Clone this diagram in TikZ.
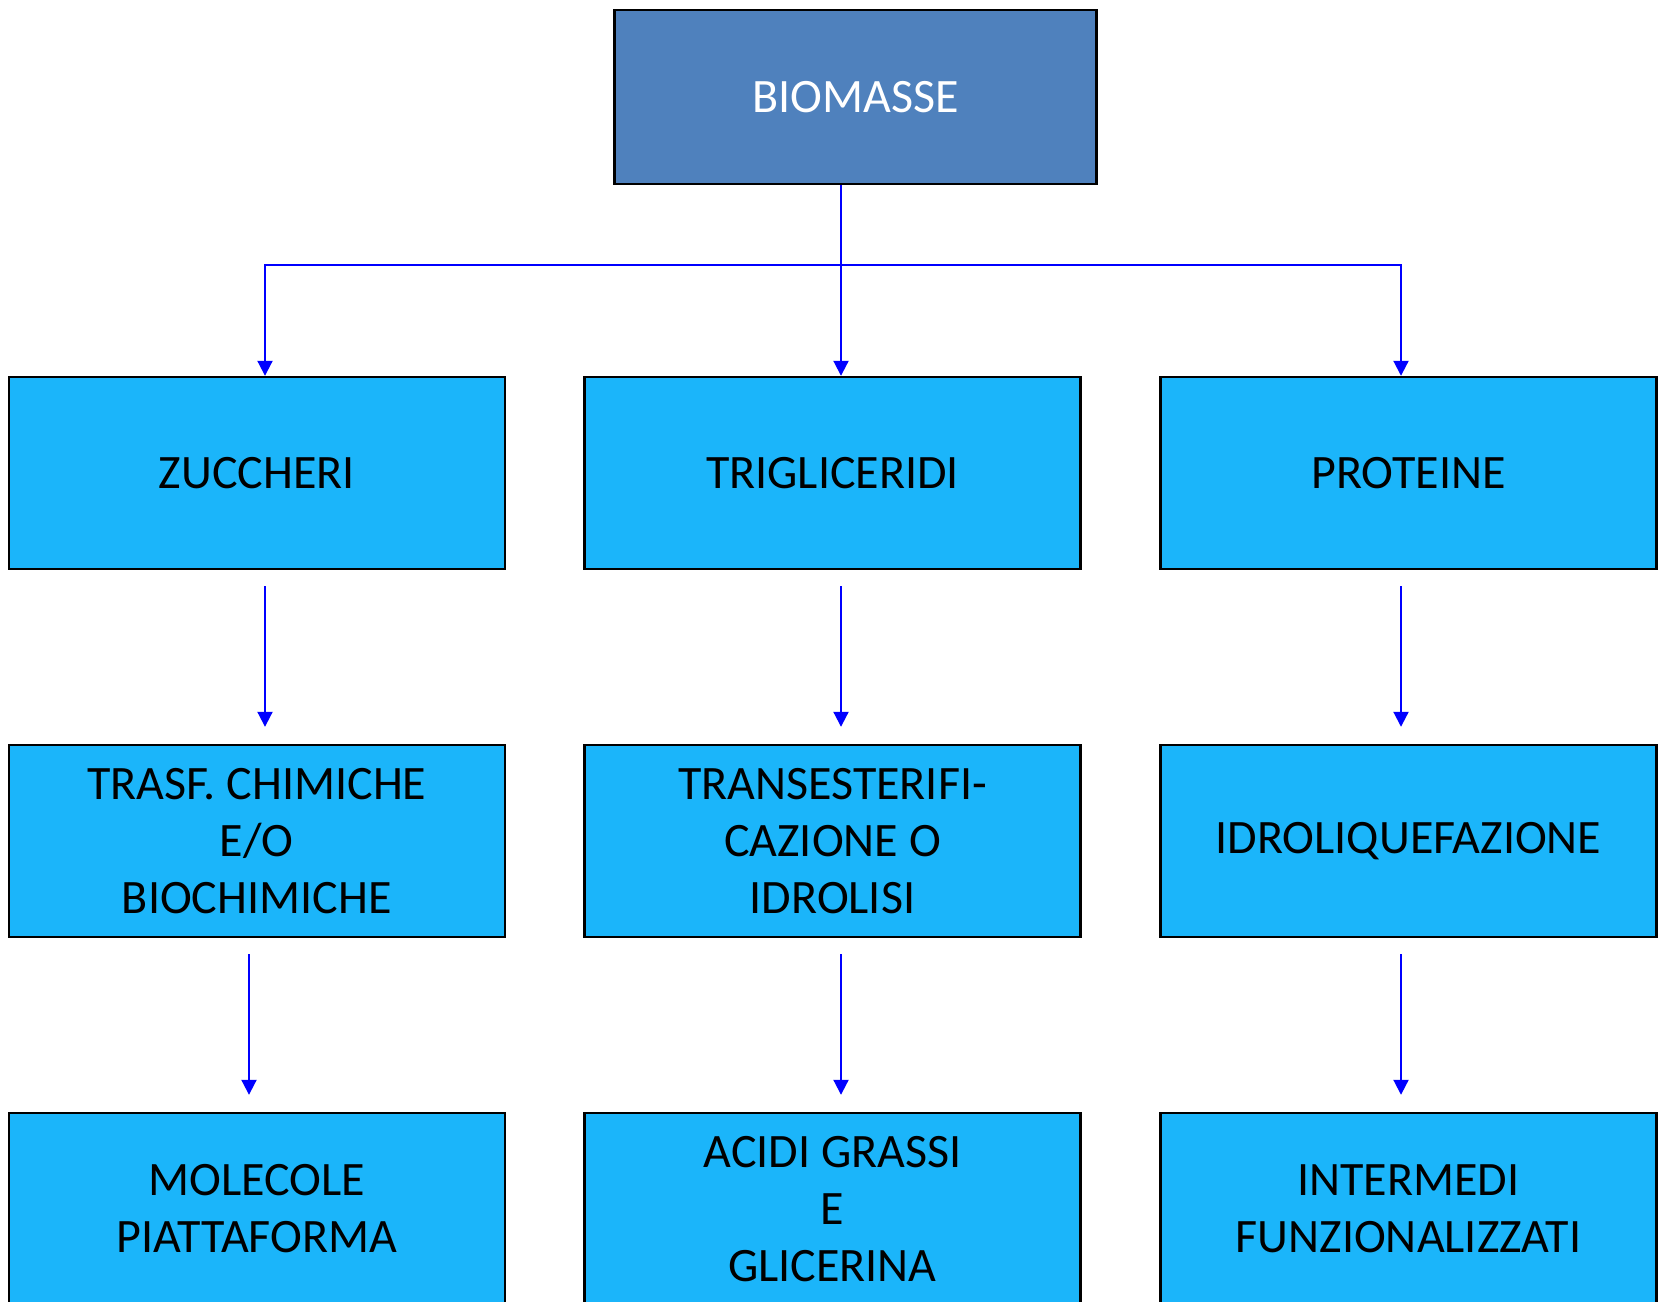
\documentclass[tikz,border=0pt]{standalone}
\usepackage{fontspec}
\setmainfont{Carlito}
\usetikzlibrary{arrows.meta}
\definecolor{topfill}{RGB}{79,129,189}
\definecolor{boxfill}{RGB}{27,181,250}
\definecolor{flowblue}{RGB}{0,0,255}
\tikzset{
  topbox/.style={draw=black, line width=2.4pt, fill=topfill, text=white,
    minimum width=482pt, minimum height=174pt, inner sep=0pt,
    font=\fontsize{48}{57}\selectfont},
  stagebox/.style={draw=black, line width=2.4pt, fill=boxfill, text=black,
    minimum width=496pt, minimum height=192pt, inner sep=0pt, align=center,
    font=\fontsize{48}{57}\selectfont},
  flow/.style={draw=flowblue, line width=2pt},
  flowarrow/.style={flow, -{Triangle[width=15pt,length=15pt]}},
  gapped/.style={shorten <=16pt, shorten >=17pt}
}
\begin{document}
\begin{tikzpicture}[x=1pt,y=-1pt]
\clip (0,0) rectangle (1659,1301);
\fill[white] (0,0) rectangle (1659,1301);

% source box
\node[topbox] (bio) at (855.5,97) {BIOMASSE};

% first row
\node[stagebox] (zuc)  at (256.75,473) {ZUCCHERI};
\node[stagebox] (trig) at (832.5,473) {TRIGLICERIDI};
\node[stagebox] (prot) at (1408.5,473) {PROTEINE};

% second row
\node[stagebox] (tras) at (256.75,841) {TRASF. CHIMICHE\\E/O\\BIOCHIMICHE};
\node[stagebox] (tran) at (832.5,841) {TRANSESTERIFI-\\CAZIONE O\\IDROLISI};
\node[stagebox] (idro) at (1408.5,841) {IDROLIQUEFAZIONE};

% third row
\node[stagebox] (mol) at (256.75,1209) {MOLECOLE\\PIATTAFORMA};
\node[stagebox] (aci) at (832.5,1209) {ACIDI GRASSI\\E\\GLICERINA};
\node[stagebox] (int) at (1408.5,1209) {INTERMEDI\\FUNZIONALIZZATI};

% connector columns
\coordinate (cl)  at (265,0);
\coordinate (cl2) at (249,0);
\coordinate (cm)  at (841,0);
\coordinate (cr)  at (1401,0);
\coordinate (split) at (841,264.7);

% branching from the source
\draw[flowarrow] (bio.south -| cm) -- (trig.north -| cm);
\draw[flowarrow] (split) -| (zuc.north -| cl);
\draw[flowarrow] (split) -| (prot.north -| cr);

% first to second row
\draw[flowarrow, gapped] (zuc.south -| cl) -- (tras.north -| cl);
\draw[flowarrow, gapped] (trig.south -| cm) -- (tran.north -| cm);
\draw[flowarrow, gapped] (prot.south -| cr) -- (idro.north -| cr);

% second to third row
\draw[flowarrow, gapped] (tras.south -| cl2) -- (mol.north -| cl2);
\draw[flowarrow, gapped] (tran.south -| cm) -- (aci.north -| cm);
\draw[flowarrow, gapped] (idro.south -| cr) -- (int.north -| cr);
\end{tikzpicture}
\end{document}
